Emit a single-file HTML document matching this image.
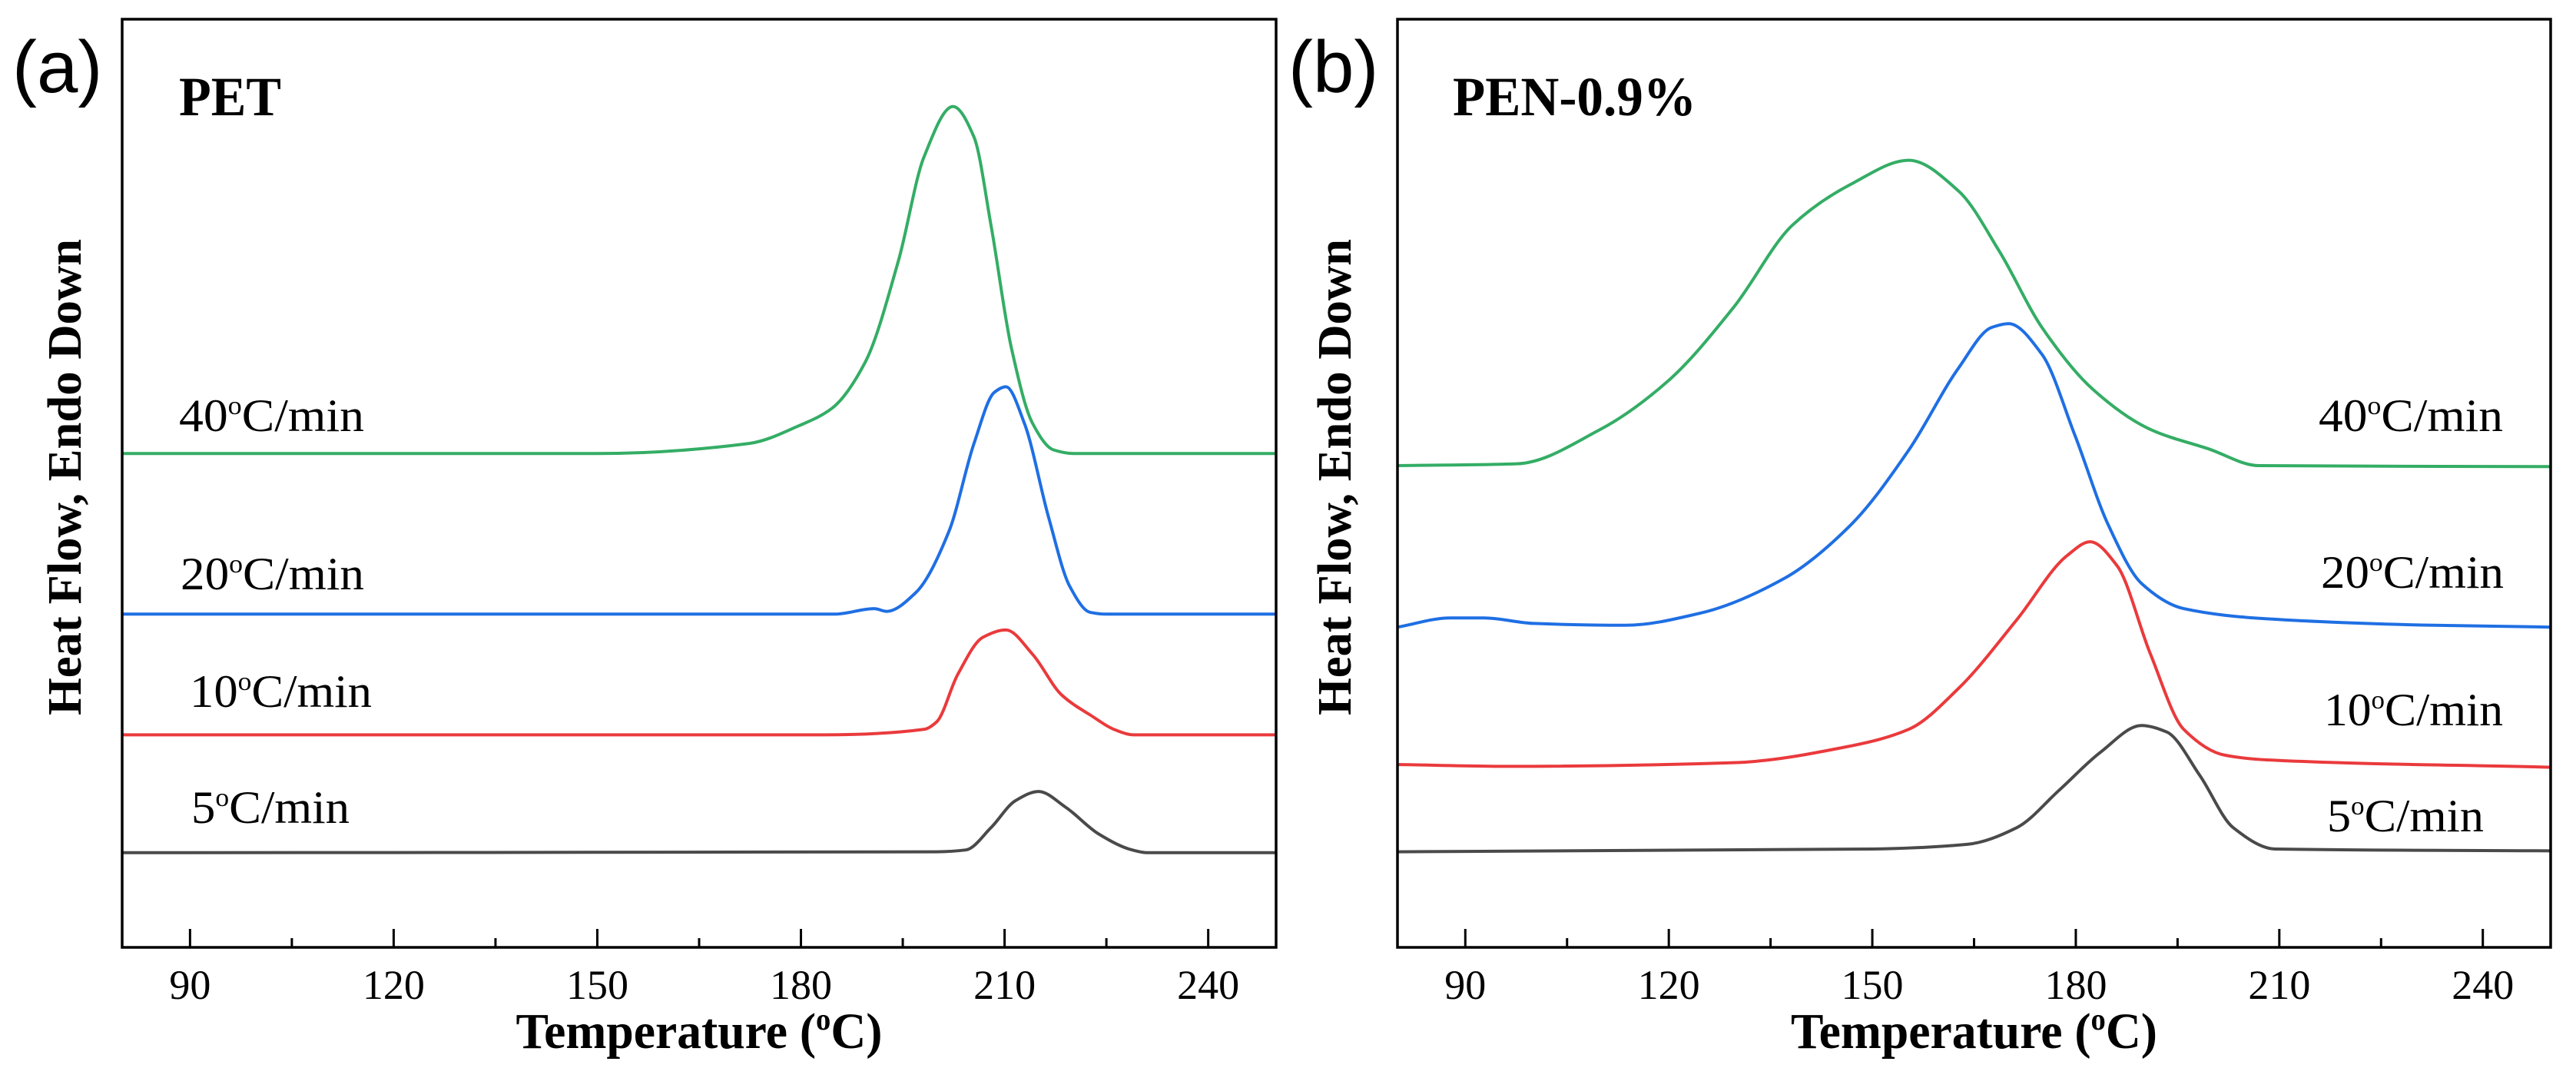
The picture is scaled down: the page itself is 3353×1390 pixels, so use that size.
<!DOCTYPE html>
<html><head><meta charset="utf-8"><style>
html,body{margin:0;padding:0;background:#fff;overflow:hidden;}
svg{display:block;}
text{font-family:"Liberation Serif",serif;fill:#000;}
</style></head><body>
<svg id="fig" width="3353" height="1390" viewBox="0 0 3353 1390" xmlns="http://www.w3.org/2000/svg"></svg>
<script>
// ---- data: panel (a) PET ----
const aT40 = [80,150,172.4,179.7,184.6,189.5,194.4,198.1,202.4,205.5,208,211,214.1,217.2,220.2,250];
const aY40 = [53.2,53.2,54.3,56.2,58.1,63.1,74.1,85.1,90.6,87.3,77.8,64.6,56.5,53.6,53.2,53.2];
const aT20 = [80,185,190.8,192.6,196.9,201.8,205.5,208.5,210.2,212.9,216.5,219.6,222.6,225,250];
const aY20 = [35.9,35.9,36.5,36.2,38.2,44.8,54.3,59.8,60.4,56.5,46.3,38.9,36.1,35.9,35.9];
const aT10 = [80,183.4,198.2,200,203.1,206.8,210.2,214.1,218.4,222.7,226.4,229,250];
const aY10 = [22.9,22.9,23.5,24.3,29.4,33.4,34.2,31.6,27.2,25,23.4,22.9,22.9];
const aT5 = [80,200,204.3,208,211.6,215,219,223.9,228.8,231,250];
const aY5 = [10.2,10.3,10.5,12.9,15.8,16.8,15.1,12.2,10.5,10.2,10.2];
// ---- data: panel (b) PEN-0.9% ----
const bT40 = [80,97.6,109.9,119.7,129.6,138.2,146.8,155.4,162.7,168.8,175,182.4,191,199.6,207,250];
const bY40 = [51.9,52.1,55.8,60.9,69,77.8,82.2,84.8,81.5,74.9,66.8,60.2,55.8,53.7,51.9,51.8];
const bT20 = [80,87.8,92.7,100.1,113.6,124.6,136.9,146.8,155.4,162.7,167.6,170.1,175,179.9,184.8,189.7,195.9,208.2,232.8,250];
const bY20 = [34.5,35.5,35.5,34.9,34.7,36,39.7,45.5,53.6,62.4,66.8,67.2,63.9,55.1,45.5,39.2,36.5,35.4,34.7,34.5];
const bT10 = [80,96.4,129.6,146.8,155.4,162.7,171.3,178.7,182.1,186.1,191,195.9,202,208.2,250];
const bY10 = [19.7,19.5,19.9,21.7,23.5,27.9,35.3,42.2,43.7,41.1,31.6,23.5,20.7,20.2,19.4];
const bT5 = [80,150,164,171.3,177.5,183.6,189.7,193.4,198.3,203.2,209.4,250];
const bY5 = [10.3,10.6,11.1,12.9,16.9,21,23.9,23.2,18.5,12.9,10.6,10.4];
const xTicks = [90,120,150,180,210,240];
const minorTicks = [105,135,165,195,225];

const NS="http://www.w3.org/2000/svg";
const svg=document.getElementById('fig');
function el(tag,attrs,parent){const e=document.createElementNS(NS,tag);for(const k in attrs)e.setAttribute(k,attrs[k]);(parent||svg).appendChild(e);return e;}
// monotone cubic (Fritsch-Carlson) in x
function monotone(pts){
  const n=pts.length,dx=[],s=[],m=[];
  for(let i=0;i<n-1;i++){dx[i]=pts[i+1][0]-pts[i][0];s[i]=(pts[i+1][1]-pts[i][1])/dx[i];}
  m[0]=s[0];m[n-1]=s[n-2];
  for(let i=1;i<n-1;i++){
    if(s[i-1]*s[i]<=0)m[i]=0;
    else{const w1=2*dx[i]+dx[i-1],w2=dx[i]+2*dx[i-1];m[i]=(w1+w2)/(w1/s[i-1]+w2/s[i]);}
  }
  let d="M"+pts[0][0].toFixed(1)+","+pts[0][1].toFixed(1);
  for(let i=0;i<n-1;i++){
    const h=dx[i]/3;
    d+=" C"+(pts[i][0]+h).toFixed(1)+","+(pts[i][1]+m[i]*h).toFixed(1)+" "+(pts[i+1][0]-h).toFixed(1)+","+(pts[i+1][1]-m[i+1]*h).toFixed(1)+" "+pts[i+1][0].toFixed(1)+","+pts[i+1][1].toFixed(1);
  }
  return d;
}
function panel(cfg){
  const g=el('g',{});
  
  
  const L=cfg.left,R=cfg.right,T=25,B=1233;
  const xs=v=>L+(v-80)/(250-80)*(R-L);
  const ys=v=>B-v/100*(B-T);
  cfg.series.forEach(s=>{
    const pts=s.t.map((t,i)=>[xs(t),ys(s.y[i])]);
    const p=el('path',{d:monotone(pts),fill:'none',stroke:s.color,'stroke-width':4,'stroke-linejoin':'round'},g);
    
    
  });
  const fr=el('rect',{x:L,y:T,width:R-L,height:B-T,fill:'none',stroke:'#000','stroke-width':3.5},g);
  
  
  xTicks.forEach(v=>{
    const t=el('line',{x1:xs(v),x2:xs(v),y1:B,y2:B-24,stroke:'#000','stroke-width':3},g);
    
    
    const lb=el('text',{x:xs(v),y:1300,'text-anchor':'middle','font-size':54},g);
    lb.textContent=v;
    
    
  });
  minorTicks.forEach(v=>{
    const t=el('line',{x1:xs(v),x2:xs(v),y1:B,y2:B-12,stroke:'#000','stroke-width':3},g);
    
    
  });
  const xt=el('text',{x:(L+R)/2,y:1364,'text-anchor':'middle','font-size':66,'font-weight':'bold',textLength:477,lengthAdjust:'spacingAndGlyphs'},g);
  xt.innerHTML='Temperature (<tspan font-size="40" dy="-24">o</tspan><tspan dy="24">C)</tspan>';
  
  
  const yt=el('text',{x:0,y:0,'text-anchor':'middle','font-size':62,'font-weight':'bold',textLength:620,lengthAdjust:'spacingAndGlyphs',transform:`translate(${cfg.ytx},621) rotate(-90)`},g);
  yt.textContent='Heat Flow, Endo Down';
  
  
  const pl=el('text',{x:cfg.plx,y:120,'font-size':96,style:'font-family:"Liberation Sans",sans-serif'},g);
  pl.textContent=cfg.letter;
  
  
  const st=el('text',{x:cfg.stx,y:150,'font-size':72,'font-weight':'bold',textLength:cfg.stw,lengthAdjust:'spacingAndGlyphs'},g);
  st.textContent=cfg.sample;
  
  
  cfg.labels.forEach(l=>{
    const t=el('text',{x:l[0],y:l[1],'font-size':60,textLength:l[3],lengthAdjust:'spacingAndGlyphs'},g);
    t.innerHTML=l[2]+'<tspan font-size="34" dy="-22">o</tspan><tspan dy="22">C/min</tspan>';
    
    
  });
}
panel({name:'panel-a-pet',left:159,right:1661,ytx:84+21,plx:16,letter:'(a)',stx:233,stw:133,sample:'PET',
  series:[{t:aT40,y:aY40,color:'#34ad65',name:'curve-40'},{t:aT20,y:aY20,color:'#1f6fe3',name:'curve-20'},{t:aT10,y:aY10,color:'#ea3a3c',name:'curve-10'},{t:aT5,y:aY5,color:'#4a4a4a',name:'curve-5'}],
  labels:[[233,561,'40',241],[235,767,'20',239],[247,920,'10',237],[249,1071,'5',206]]});
panel({name:'panel-b-pen',left:1819,right:3320,ytx:1650+87+21,plx:1677,letter:'(b)',stx:1891,stw:317,sample:'PEN-0.9%',
  series:[{t:bT40,y:bY40,color:'#34ad65',name:'curve-40'},{t:bT20,y:bY20,color:'#1f6fe3',name:'curve-20'},{t:bT10,y:bY10,color:'#ea3a3c',name:'curve-10'},{t:bT5,y:bY5,color:'#4a4a4a',name:'curve-5'}],
  labels:[[3018,561,'40',240],[3021,765,'20',238],[3025,944,'10',233],[3029,1082,'5',204]]});
</script>
</body></html>
